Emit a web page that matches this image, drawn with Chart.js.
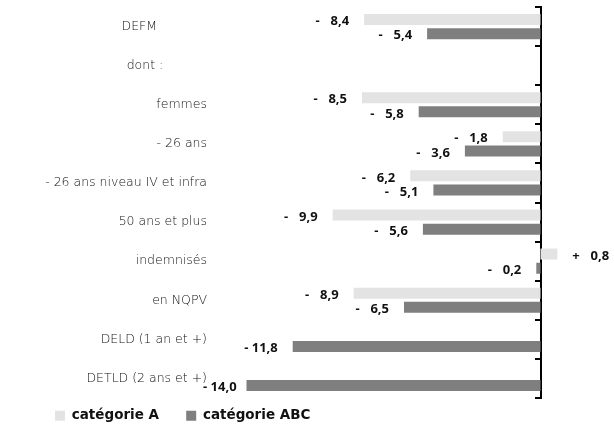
<!DOCTYPE html>
<html>
<head>
<meta charset="utf-8">
<script src="https://cdn.jsdelivr.net/npm/chart.js@4"></script>
<style>
  html, body { margin: 0; padding: 0; background: #fff; }
  #wrap { width: 614px; height: 424px; position: relative; }
</style>
</head>
<body>
<div id="wrap"><canvas id="c"></canvas></div>
<script>
// ---- data ----
const categories = ['DEFM', 'dont :', 'femmes', '- 26 ans', '- 26 ans niveau IV et infra',
  '50 ans et plus', 'indemnisés', 'en NQPV', 'DELD (1 an et +)', 'DETLD (2 ans et +)'];
const seriesNames = ['catégorie A', 'catégorie ABC'];
const catA   = [-8.4, null, -8.5, -1.8, -6.2, -9.9, 0.8, -8.9, null, null];
const catABC = [-5.4, null, -5.8, -3.6, -5.1, -5.6, -0.2, -6.5, -11.8, -14.0];

// ---- style ----
const COL_A = '#e3e3e3';
const COL_ABC = '#7f7f7f';
const CAT_FONT = {family: 'DejaVu Sans', size: 12.5, weight: 200};
const LBL_FONT = '700 13px "Open Sans"';
const LEG_FONT = {family: 'DejaVu Sans', size: 13.5, weight: 700};
const labelIndent = {0: '\u2003\u2003\u2003\u2003', 1: '\u2003\u2003\u2003\u2002'};

function fmt(v) { return Math.abs(v).toFixed(1).replace('.', ','); }

const valueLabels = {
  id: 'valueLabels',
  afterDatasetsDraw(chart) {
    const ctx = chart.ctx;
    const area = chart.chartArea;
    ctx.save();
    ctx.font = LBL_FONT;
    ctx.fillStyle = '#111';
    ctx.textBaseline = 'middle';
    const numW = ctx.measureText('00,0').width;
    const spW = ctx.measureText(' ').width;
    chart.data.datasets.forEach((ds, di) => {
      const meta = chart.getDatasetMeta(di);
      meta.data.forEach((el, i) => {
        const v = ds.data[i];
        if (v === null || v === undefined) return;
        const sign = v < 0 ? '-' : '+';
        const signW = ctx.measureText(sign).width;
        const total = signW + spW + numW;
        const y = el.y + 2;
        let left;
        if (v < 0) {
          left = Math.min(el.x, el.base) - 15 - total;
          if (left < area.left - 12) left = area.left - 12;
        } else {
          left = Math.max(el.x, el.base) + 15;
        }
        ctx.textAlign = 'left';
        ctx.fillText(sign, left, y);
        ctx.textAlign = 'right';
        ctx.fillText(fmt(v), left + total, y);
      });
    });
    ctx.restore();
  }
};

const LEFT_PAD = 44;
const LEG_PAD = 11;

new Chart(document.getElementById('c'), {
  type: 'bar',
  data: {
    labels: categories,
    datasets: [
      {label: seriesNames[0], data: catA, backgroundColor: COL_A, borderWidth: 0,
       categoryPercentage: 0.727, barPercentage: 0.775},
      {label: seriesNames[1], data: catABC, backgroundColor: COL_ABC, borderWidth: 0,
       categoryPercentage: 0.727, barPercentage: 0.775}
    ]
  },
  options: {
    indexAxis: 'y',
    responsive: true,
    maintainAspectRatio: false,
    animation: false,
    layout: {padding: {left: LEFT_PAD, top: 7, right: 0, bottom: 0}},
    scales: {
      x: {type: 'linear', min: -15.5, max: 3.5, display: false},
      y: {
        type: 'category',
        offset: true,
        grid: {display: false, drawTicks: false},
        border: {display: false},
        ticks: {
          padding: 8,
          color: '#111',
          font: CAT_FONT,
          callback: function (val, i) { return categories[i] + (labelIndent[i] || ''); }
        },
        afterFit: s => { s.width = 215 - LEFT_PAD; s.paddingTop = 0; s.paddingBottom = 0; }
      },
      yAxis0: {
        type: 'category',
        axis: 'y',
        position: {x: 0},
        offset: true,
        ticks: {display: false},
        grid: {display: true, drawOnChartArea: false, drawTicks: true, tickLength: 5,
               color: '#000', lineWidth: 2, offset: true},
        border: {display: true, color: '#000', width: 2},
        afterFit: s => { s.paddingTop = 0; s.paddingBottom = 0; }
      }
    },
    plugins: {
      tooltip: {enabled: false},
      legend: {
        position: 'bottom',
        align: 'start',
        maxHeight: 26,
        labels: {
          boxWidth: 10,
          boxHeight: 10,
          padding: LEG_PAD,
          color: '#111',
          font: LEG_FONT,
          generateLabels(chart) {
            const items = Chart.defaults.plugins.legend.labels.generateLabels(chart);
            items.forEach((it, i) => { if (i < items.length - 1) it.text = it.text + '\u2003\u2009'; });
            return items;
          }
        }
      }
    }
  },
  plugins: [valueLabels]
});
</script>
</body>
</html>
